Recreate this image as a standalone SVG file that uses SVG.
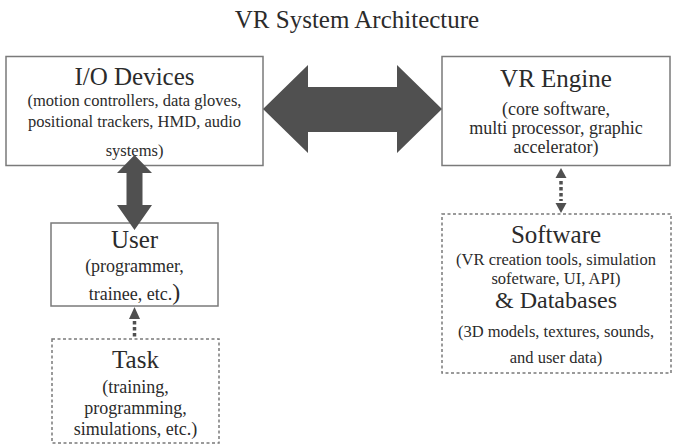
<svg xmlns="http://www.w3.org/2000/svg" width="673" height="445" viewBox="0 0 673 445">
<style>
.box{fill:#fff;stroke:#7a7a7a;stroke-width:1.5}
.dbox{fill:#fff;stroke:#7a7a7a;stroke-width:1.5;stroke-dasharray:3,2.5}
.big{fill:#505050}
.dot{stroke:#505050;stroke-width:3.5;stroke-dasharray:3.5,2.5;fill:none}
</style>
<rect width="673" height="445" fill="#fff"/>
<text font-family="Liberation Serif" fill="#2b2b2b" text-anchor="middle" font-size="25" x="357" y="28">VR System Architecture</text>
<g id="io" font-family="Liberation Serif" fill="#2b2b2b" text-anchor="middle">
<rect class="box" x="6" y="56.5" width="257" height="109"/>
<text font-family="Liberation Serif" font-size="25" x="134.5" y="85">I/O Devices</text>
<text font-family="Liberation Serif" font-size="16.5" x="134.5" y="106">(motion controllers, data gloves,</text>
<text font-family="Liberation Serif" font-size="16.5" x="134.5" y="127">positional trackers, HMD, audio</text>
<text font-family="Liberation Serif" font-size="16.5" x="134.5" y="156">systems)</text>
</g>
<g id="engine" font-family="Liberation Serif" fill="#2b2b2b" text-anchor="middle">
<rect class="box" x="442" y="56.5" width="228" height="109"/>
<text font-family="Liberation Serif" font-size="25" x="556" y="87">VR Engine</text>
<text font-family="Liberation Serif" font-size="18" x="556" y="115">(core software,</text>
<text font-family="Liberation Serif" font-size="18" x="556" y="134">multi processor, graphic</text>
<text font-family="Liberation Serif" font-size="18" x="556" y="153">accelerator)</text>
</g>
<g id="user" font-family="Liberation Serif" fill="#2b2b2b" text-anchor="middle">
<rect class="box" x="51" y="223" width="167" height="83"/>
<text font-family="Liberation Serif" font-size="25" x="134.5" y="248">User</text>
<text font-family="Liberation Serif" font-size="18" x="134.5" y="272">(programmer,</text>
<text font-family="Liberation Serif" font-size="18" x="134.5" y="300">trainee, etc.<tspan font-size="24">)</tspan></text>
</g>
<g id="task" font-family="Liberation Serif" fill="#2b2b2b" text-anchor="middle">
<rect class="dbox" x="52" y="339" width="167" height="104"/>
<text font-family="Liberation Serif" font-size="25" x="135.5" y="368">Task</text>
<text font-family="Liberation Serif" font-size="18" x="135.5" y="393">(training,</text>
<text font-family="Liberation Serif" font-size="18" x="135.5" y="414">programming,</text>
<text font-family="Liberation Serif" font-size="18" x="135.5" y="435">simulations, etc.)</text>
</g>
<g id="software" font-family="Liberation Serif" fill="#2b2b2b" text-anchor="middle">
<rect class="dbox" x="442" y="214" width="229" height="159"/>
<text font-family="Liberation Serif" font-size="25" x="556" y="243">Software</text>
<text font-family="Liberation Serif" font-size="16.5" x="556" y="265">(VR creation tools, simulation</text>
<text font-family="Liberation Serif" font-size="16.5" x="556" y="284">sofetware, UI, API)</text>
<text font-family="Liberation Serif" font-size="24" x="556" y="308">&amp; Databases</text>
<text font-family="Liberation Serif" font-size="16.5" x="556" y="337">(3D models, textures, sounds,</text>
<text font-family="Liberation Serif" font-size="16.5" x="556" y="363">and user data)</text>
</g>
<g id="connectors">
<polygon class="big" points="263,109 308,65 308,87 397,87 397,65 442,109 397,153 397,132 308,132 308,153"/>
<polygon class="big" points="134.5,155 152,173 142.5,173 142.5,205 152,205 134.5,230 117,205 126.5,205 126.5,173 117,173"/>
<polygon class="big" points="134.5,307 140,319 129,319"/>
<line class="dot" x1="134.5" y1="321" x2="134.5" y2="339"/>
<polygon class="big" points="561,168 566.5,178 555.5,178"/>
<polygon class="big" points="561,213 566.5,203 555.5,203"/>
<line class="dot" x1="561" y1="181" x2="561" y2="201"/>
</g>
</svg>
